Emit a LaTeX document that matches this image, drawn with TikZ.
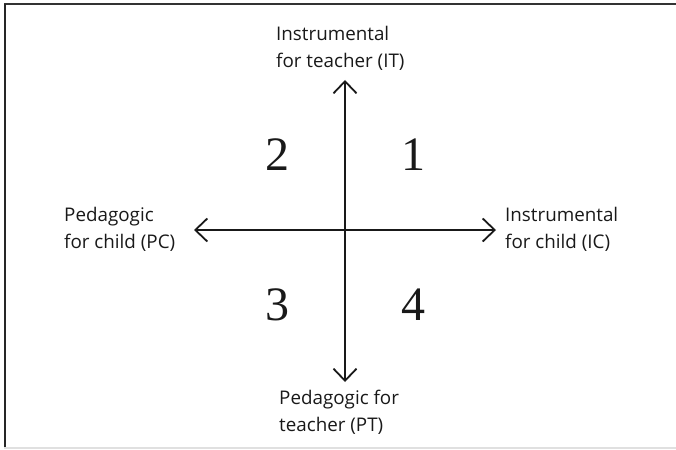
\documentclass[tikz,border=0pt]{standalone}
\usepackage{fontspec}
\setmainfont{Open Sans}
\newfontfamily\numfont{Liberation Serif}
\usetikzlibrary{arrows.meta}
\tikzset{
  axis/.style={line width=1.8pt, draw=black!90, {Straight Barb[length=12pt,width=23pt,line width=1.8pt]}-{Straight Barb[length=12pt,width=23pt,line width=1.8pt]}},
  lab/.style={font=\fontsize{18.8}{27}\selectfont, align=left, anchor=base west, inner sep=0pt, text=black!90},
  quad/.style={font=\numfont\fontsize{48}{48}\selectfont, inner sep=0pt, text=black!90}
}
\begin{document}
\begin{tikzpicture}[x=1pt,y=-1pt]
\useasboundingbox (0,0) rectangle (676,449);
% frame
\draw[line width=2pt, draw=black!80] (4,4.5) -- (676,4.5);
\draw[line width=2pt, draw=black!85] (5,4) -- (5,447);
\draw[line width=2pt, draw=black!12] (4,447.8) -- (676,447.8);
% axes
\coordinate (top) at (345,80);
\coordinate (bot) at (345,382);
\coordinate (left) at (194,230);
\coordinate (right) at (496,230);
\draw[axis] (top) -- (bot);
\draw[axis] (left) -- (right);
% labels (anchor = baseline of last line)
\node[lab] (IT) at (276,68) {Instrumental\\for teacher (IT)};
\node[lab] (PC) at (64,248) {Pedagogic\\for child (PC)};
\node[lab] (IC) at (505,248) {Instrumental\\for child (IC)};
\node[lab] (PT) at (279,431) {Pedagogic for\\teacher (PT)};
% quadrants
\node[quad] (q1) at (413,155) {1};
\node[quad] (q2) at (277,155) {2};
\node[quad] (q3) at (277,305) {3};
\node[quad] (q4) at (413,305) {4};
\end{tikzpicture}
\end{document}
